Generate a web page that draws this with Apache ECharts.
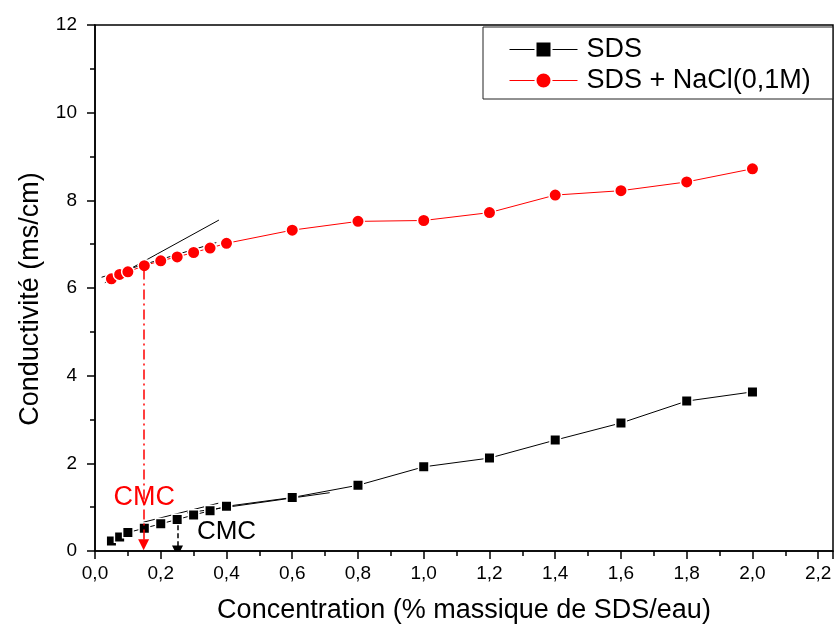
<!DOCTYPE html>
<html>
<head>
<meta charset="utf-8">
<script src="https://cdn.jsdelivr.net/npm/echarts@6/dist/echarts.min.js"></script>
<style>html,body{margin:0;padding:0;background:#fff}#c{width:837px;height:628px}</style>
</head>
<body>
<div id="c"></div>
<script>
// ---- data ----
const concentration = [0.05, 0.075, 0.1, 0.15, 0.2, 0.25, 0.3, 0.35, 0.4, 0.6, 0.8, 1.0, 1.2, 1.4, 1.6, 1.8, 2.0];
const sdsValues = [0.23, 0.32, 0.42, 0.52, 0.62, 0.72, 0.82, 0.92, 1.02, 1.22, 1.5, 1.92, 2.12, 2.53, 2.92, 3.42, 3.63];
const naclValues = [6.21, 6.31, 6.37, 6.51, 6.62, 6.71, 6.81, 6.91, 7.02, 7.32, 7.52, 7.54, 7.72, 8.12, 8.22, 8.42, 8.72];
const seriesNames = ['SDS', 'SDS + NaCl(0,1M)'];
// tangent (fit) lines: [x, y] endpoints
const naclFitBelow = [[0.02, 6.245], [0.369, 7.035]];
const naclFitSteep = [[0.03, 6.12], [0.377, 7.55]];
const sdsFitBelow = [[0.147, 0.656], [0.375, 1.09]];
const sdsFitAbove = [[0.28, 0.87], [0.714, 1.33]];
// CMC arrows and labels
const naclCmcArrow = [[0.148, 6.42], [0.148, 0.14]];
const sdsCmcArrow = [[0.251, 0.59], [0.251, 0.0]];
const naclCmcLabel = [0.15, 1.23, 'CMC'];
const sdsCmcLabel = [0.31, 0.44, 'CMC'];
const xTicks = [0, 0.2, 0.4, 0.6, 0.8, 1.0, 1.2, 1.4, 1.6, 1.8, 2.0, 2.2];
const yTicks = [0, 2, 4, 6, 8, 10, 12];

const FONT = '"Liberation Sans", Arial, sans-serif';
const pair = (xs, ys) => xs.map((x, i) => [x, ys[i]]);

const chart = echarts.init(document.getElementById('c'));
const fitLine = (name, data) => ({
  name, type: 'line', data, symbol: 'none', silent: true,
  lineStyle: { color: '#000', width: 1 }, z: 3
});
chart.setOption({
  animation: false,
  backgroundColor: '#fff',
  grid: { left: 95, right: 4, top: 25, bottom: 77, outerBoundsMode: 'none', containLabel: false, show: true, borderColor: '#000', borderWidth: 1.5, backgroundColor: 'transparent' },
  legend: {
    data: seriesNames,
    orient: 'vertical',
    left: 483, top: 27,
    padding: [9, 22, 5, 26],
    itemWidth: 68, itemHeight: 20, itemGap: 4,
    borderColor: '#222', borderWidth: 1,
    backgroundColor: '#fff',
    lineStyle: { width: 1 },
    textStyle: { fontFamily: FONT, fontSize: 27, color: '#000', padding: [0, 0, 0, 4] }
  },
  xAxis: {
    type: 'value', min: 0, max: 2.245, interval: 0.2,
    name: 'Concentration (% massique de SDS/eau)', nameLocation: 'middle', nameGap: 46,
    nameTextStyle: { fontFamily: FONT, fontSize: 27, color: '#000' },
    axisLine: { show: true, lineStyle: { color: '#000', width: 1.5 } },
    axisTick: { show: true, inside: false, length: 8, lineStyle: { color: '#000', width: 1.5 } },
    minorTick: { show: true, splitNumber: 2, length: 5, lineStyle: { color: '#000', width: 1.5 } },
    splitLine: { show: false },
    axisLabel: {
      fontFamily: FONT, fontSize: 19, color: '#000', margin: 13,
      formatter: v => xTicks.some(t => Math.abs(t - v) < 1e-6) ? v.toFixed(1).replace('.', ',') : ''
    }
  },
  yAxis: {
    type: 'value', min: 0, max: 12, interval: 2,
    name: 'Conductivité (ms/cm)', nameLocation: 'middle', nameGap: 51,
    nameTextStyle: { fontFamily: FONT, fontSize: 27, color: '#000', padding: [0, 22, 0, 0] },
    axisLine: { show: true, lineStyle: { color: '#000', width: 1.5 } },
    axisTick: { show: true, inside: false, length: 8, lineStyle: { color: '#000', width: 1.5 } },
    minorTick: { show: true, splitNumber: 2, length: 5, lineStyle: { color: '#000', width: 1.5 } },
    splitLine: { show: false },
    axisLabel: {
      fontFamily: FONT, fontSize: 19, color: '#000', margin: 18,
      formatter: v => yTicks.includes(v) ? String(v) : ''
    }
  },
  series: [
    fitLine('fitNaclBelow', naclFitBelow),
    fitLine('fitNaclSteep', naclFitSteep),
    fitLine('fitSdsBelow', sdsFitBelow),
    fitLine('fitSdsAbove', sdsFitAbove),
    {
      name: seriesNames[0], type: 'line', data: pair(concentration, sdsValues),
      symbol: 'rect', symbolSize: 10.5, showSymbol: true,
      itemStyle: { color: '#000', borderColor: '#fff', borderWidth: 1.5 },
      lineStyle: { color: '#000', width: 1 }, z: 4
    },
    {
      name: seriesNames[1], type: 'line', data: pair(concentration, naclValues),
      symbol: 'circle', symbolSize: 12.5, showSymbol: true,
      itemStyle: { color: '#ff0000', borderColor: '#fff', borderWidth: 1.5 },
      lineStyle: { color: '#ff0000', width: 1 }, z: 4
    },
    {
      name: 'cmcArrows', type: 'lines', coordinateSystem: 'cartesian2d', silent: true, z: 5,
      symbol: ['none', 'triangle'], symbolSize: [7, 11],
      data: [
        { coords: naclCmcArrow, lineStyle: { color: '#ff0000', width: 1.5, opacity: 1, type: [10, 4, 2, 4] } },
        { coords: sdsCmcArrow, lineStyle: { color: '#000', width: 1.5, opacity: 1, type: [5, 3] } }
      ],
      lineStyle: { opacity: 1 }
    },
    {
      name: 'cmcLabels', type: 'scatter', symbolSize: 0, silent: true, z: 6,
      itemStyle: { opacity: 1 },
      data: [
        { value: naclCmcLabel, label: { show: true, position: 'inside', align: 'center', verticalAlign: 'middle', color: '#ff0000', fontSize: 27, fontFamily: FONT, formatter: p => p.value[2] } },
        { value: sdsCmcLabel, label: { show: true, position: 'inside', align: 'left', verticalAlign: 'middle', color: '#000', fontSize: 26, fontFamily: FONT, formatter: p => p.value[2] } }
      ]
    }
  ]
});
</script>
</body>
</html>
